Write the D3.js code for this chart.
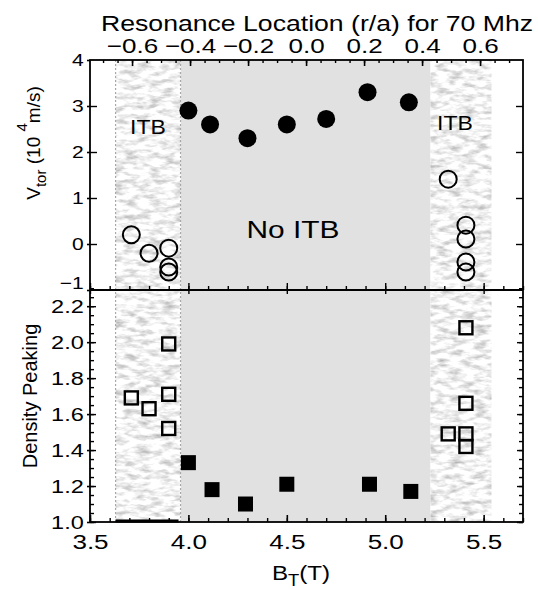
<!DOCTYPE html>
<html>
<head>
<meta charset="utf-8">
<script src="https://cdn.jsdelivr.net/npm/d3@7"></script>
<style>
  body { margin: 0; background: #fff; }
  svg text { font-family: "Liberation Sans", Arial, Helvetica, sans-serif; fill: #000; }
</style>
</head>
<body>
<svg id="chart" width="538" height="590"></svg>
<script>
const bVtorNoItb = [4.0, 4.11, 4.3, 4.5, 4.7, 4.91, 5.12];
const vtorNoItb = [2.9, 2.6, 2.3, 2.6, 2.72, 3.3, 3.08];
const bVtorItb = [3.71, 3.8, 3.9, 3.9, 3.9, 5.32, 5.41, 5.41, 5.41, 5.41];
const vtorItb = [0.2, -0.2, -0.09, -0.5, -0.61, 1.41, 0.41, 0.11, -0.39, -0.61];

const bPeakNoItb = [4.0, 4.12, 4.29, 4.5, 4.92, 5.13];
const peakNoItb = [1.33, 1.18, 1.1, 1.21, 1.21, 1.17];
const bPeakItb = [3.71, 3.8, 3.9, 3.9, 3.9, 5.41, 5.41, 5.32, 5.41, 5.41];
const peakItb = [1.69, 1.63, 1.99, 1.71, 1.52, 2.08, 1.66, 1.49, 1.49, 1.42];

// shaded B_T ranges
const itbRanges = [[3.63, 3.96], [5.23, 5.54]];
const noItbRange = [3.96, 5.23];

// tick values
const bTicks = [3.5, 4.0, 4.5, 5.0, 5.5];
const bMinor = d3.range(3.5, 5.71, 0.1);
const rTicks = [-0.6, -0.4, -0.2, 0.0, 0.2, 0.4, 0.6];
const rMinor = d3.range(-0.7, 0.71, 0.05);
const vTicks = [-1, 0, 1, 2, 3, 4];
const peakTicks = [1.0, 1.2, 1.4, 1.6, 1.8, 2.0, 2.2];
const peakMinor = d3.range(1.0, 2.31, 0.05);

const pLeft = 90, pRight = 523, pTop = 60, pMid = 290, pBottom = 522;
const stretch = 1.24; // the labels in the figure are a bit wide

const svg = d3.select("#chart");

const x = d3.scaleLinear().domain([3.5, 5.7]).range([pLeft, pRight]);
const xr = d3.scaleLinear().domain([-0.745, 0.748]).range([pLeft, pRight]);
const yV = d3.scaleLinear().domain([-1, 4]).range([pMid, pTop]);
const yP = d3.scaleLinear().domain([1.0, 2.29]).range([pBottom, pMid]);

// texture for the ITB bands
const defs = svg.append("defs");
const f = defs.append("filter").attr("id", "mottle")
  .attr("x", 0).attr("y", 0).attr("width", 1).attr("height", 1)
  .attr("color-interpolation-filters", "sRGB");
f.append("feTurbulence").attr("type", "fractalNoise")
  .attr("baseFrequency", "0.08 0.2").attr("numOctaves", 3).attr("seed", 7).attr("result", "n");
f.append("feColorMatrix").attr("in", "n").attr("type", "matrix")
  .attr("values", "-0.6 0 0 0 1.25  -0.6 0 0 0 1.25  -0.6 0 0 0 1.25  0 0 0 0 1").attr("result", "g");
f.append("feComposite").attr("in", "g").attr("in2", "SourceGraphic").attr("operator", "in");

// backgrounds for both panels
[[pTop, pMid], [pMid, pBottom]].forEach(([y0, y1]) => {
  svg.append("rect")
    .attr("x", x(noItbRange[0])).attr("y", y0)
    .attr("width", x(noItbRange[1]) - x(noItbRange[0])).attr("height", y1 - y0)
    .attr("fill", "#e1e1e1");
  itbRanges.forEach(r => {
    svg.append("rect")
      .attr("x", x(r[0])).attr("y", y0)
      .attr("width", x(r[1]) - x(r[0])).attr("height", y1 - y0)
      .attr("fill", "#fff").attr("filter", "url(#mottle)");
  });
});
// dotted edges of the left band
itbRanges[0].forEach(b => {
  svg.append("line")
    .attr("x1", x(b)).attr("x2", x(b)).attr("y1", pTop).attr("y2", pBottom)
    .attr("stroke", "#a8a8a8").attr("stroke-width", 1.2).attr("stroke-dasharray", "2,2");
});
svg.append("line")
  .attr("x1", x(itbRanges[0][0])).attr("x2", x(itbRanges[0][1]) - 2)
  .attr("y1", pBottom - 1).attr("y2", pBottom - 1)
  .attr("stroke", "#000").attr("stroke-width", 3);

// helper to style axes
function styleAxis(g, fontSize) {
  g.select(".domain").remove();
  g.selectAll(".tick line").attr("stroke", "#000").attr("stroke-width", 1.6);
  g.selectAll("text").attr("font-size", fontSize).attr("fill", "#000")
    .attr("transform", `scale(${stretch},1)`);
}
function noLabels(g) {
  g.select(".domain").remove();
  g.selectAll("text").remove();
  g.selectAll(".tick line").attr("stroke", "#000").attr("stroke-width", 1.4);
}

// top axis: resonance location
svg.append("g").attr("transform", `translate(0,${pTop})`)
  .call(d3.axisTop(xr).tickValues(rTicks).tickSize(-6).tickPadding(7).tickFormat(d3.format(".1f")))
  .call(g => styleAxis(g, 21));
svg.append("g").attr("transform", `translate(0,${pTop})`)
  .call(d3.axisBottom(xr).tickValues(rMinor.filter(v => xr(v) > pLeft + 2 && xr(v) < pRight - 2)).tickSize(3))
  .call(noLabels);

// divider: B_T ticks crossing the line
svg.append("g").attr("transform", `translate(0,${pMid})`)
  .call(d3.axisBottom(x).tickValues(bTicks).tickSize(-7)).call(noLabels);
svg.append("g").attr("transform", `translate(0,${pMid})`)
  .call(d3.axisBottom(x).tickValues(bTicks).tickSize(4)).call(noLabels);
svg.append("g").attr("transform", `translate(0,${pMid})`)
  .call(d3.axisBottom(x).tickValues(bMinor).tickSize(-4)).call(noLabels);

// bottom axis
svg.append("g").attr("transform", `translate(0,${pBottom})`)
  .call(d3.axisBottom(x).tickValues(bTicks).tickSize(-7).tickPadding(12).tickFormat(d3.format(".1f")))
  .call(g => styleAxis(g, 21));
svg.append("g").attr("transform", `translate(0,${pBottom})`)
  .call(d3.axisBottom(x).tickValues(bMinor).tickSize(-4)).call(noLabels);

// left axes; the -1 label sits just above the divider
svg.append("g").attr("transform", `translate(${pLeft},0)`)
  .call(d3.axisLeft(yV).tickValues(vTicks).tickSize(3).tickPadding(2).tickFormat(d3.format("d")))
  .call(g => styleAxis(g, 17))
  .call(g => g.selectAll(".tick").filter(d => d === -1).select("text").attr("dy", "-0.1em"));
svg.append("g").attr("transform", `translate(${pLeft},0)`)
  .call(d3.axisRight(yV).tickValues(vTicks.filter(v => v > -1 && v < 4)).tickSize(7)).call(noLabels);

svg.append("g").attr("transform", `translate(${pLeft},0)`)
  .call(d3.axisLeft(yP).tickValues(peakTicks).tickSize(3).tickPadding(2).tickFormat(d3.format(".1f")))
  .call(g => styleAxis(g, 19));
svg.append("g").attr("transform", `translate(${pLeft},0)`)
  .call(d3.axisRight(yP).tickValues(peakTicks).tickSize(6)).call(noLabels);
svg.append("g").attr("transform", `translate(${pLeft},0)`)
  .call(d3.axisRight(yP).tickValues(peakMinor).tickSize(4)).call(noLabels);

// right axes (mirror ticks)
svg.append("g").attr("transform", `translate(${pRight},0)`)
  .call(d3.axisLeft(yV).tickValues(vTicks.filter(v => v > -1 && v < 4)).tickSize(7)).call(noLabels);
svg.append("g").attr("transform", `translate(${pRight},0)`)
  .call(d3.axisLeft(yP).tickValues(peakTicks).tickSize(6)).call(noLabels);
svg.append("g").attr("transform", `translate(${pRight},0)`)
  .call(d3.axisLeft(yP).tickValues(peakMinor).tickSize(4)).call(noLabels);

// frame
svg.append("rect").attr("x", pLeft).attr("y", pTop)
  .attr("width", pRight - pLeft).attr("height", pBottom - pTop)
  .attr("fill", "none").attr("stroke", "#000").attr("stroke-width", 1.8);
svg.append("line").attr("x1", pLeft).attr("x2", pRight).attr("y1", pMid).attr("y2", pMid)
  .attr("stroke", "#000").attr("stroke-width", 1.8);

// markers: upper panel
svg.append("g").selectAll("circle").data(d3.zip(bVtorNoItb, vtorNoItb)).join("circle")
  .attr("cx", d => x(d[0])).attr("cy", d => yV(d[1])).attr("r", 9).attr("fill", "#000");
svg.append("g").selectAll("circle").data(d3.zip(bVtorItb, vtorItb)).join("circle")
  .attr("cx", d => x(d[0])).attr("cy", d => yV(d[1])).attr("r", 8.5)
  .attr("fill", "none").attr("stroke", "#000").attr("stroke-width", 2);

// markers: lower panel
const sq = 15;
svg.append("g").selectAll("rect").data(d3.zip(bPeakNoItb, peakNoItb)).join("rect")
  .attr("x", d => x(d[0]) - sq / 2).attr("y", d => yP(d[1]) - sq / 2)
  .attr("width", sq).attr("height", sq).attr("fill", "#000");
svg.append("g").selectAll("rect").data(d3.zip(bPeakItb, peakItb)).join("rect")
  .attr("x", d => x(d[0]) - (sq - 2) / 2).attr("y", d => yP(d[1]) - (sq - 2) / 2)
  .attr("width", sq - 2).attr("height", sq - 2)
  .attr("fill", "none").attr("stroke", "#000").attr("stroke-width", 2.4);

// region labels
function label(txt, cx, cy, size, sx) {
  svg.append("text").attr("text-anchor", "middle").attr("font-size", size)
    .attr("transform", `translate(${cx},${cy}) scale(${sx},1)`).text(txt);
}
label("ITB", 148, 134, 20, 1.15);
label("ITB", 455, 130, 20, 1.15);
label("No ITB", 293, 238, 23, 1.3);

// titles
svg.append("text").attr("x", 317).attr("y", 31).attr("text-anchor", "middle")
  .attr("font-size", 22).attr("textLength", 432).attr("lengthAdjust", "spacingAndGlyphs")
  .text("Resonance Location (r/a) for 70 Mhz");

const bt = svg.append("text").attr("text-anchor", "middle").attr("font-size", 21)
  .attr("transform", `translate(301,580) scale(1.15,1)`);
bt.append("tspan").text("B");
bt.append("tspan").attr("font-size", 16).attr("dy", 6).text("T");
bt.append("tspan").attr("dy", -6).text("(T)");

const vl = svg.append("text").attr("text-anchor", "middle").attr("font-size", 19)
  .attr("transform", "translate(40,143) rotate(-90)");
vl.append("tspan").text("V");
vl.append("tspan").attr("font-size", 15).attr("dy", 6).text("tor");
vl.append("tspan").attr("dy", -6).text(" (10 ");
vl.append("tspan").attr("font-size", 15).attr("dy", -13).text("4");
vl.append("tspan").attr("dy", 13).text("m/s)");

svg.append("text").attr("text-anchor", "middle").attr("font-size", 20)
  .attr("transform", "translate(37,396) rotate(-90)").text("Density Peaking");
</script>
</body>
</html>
